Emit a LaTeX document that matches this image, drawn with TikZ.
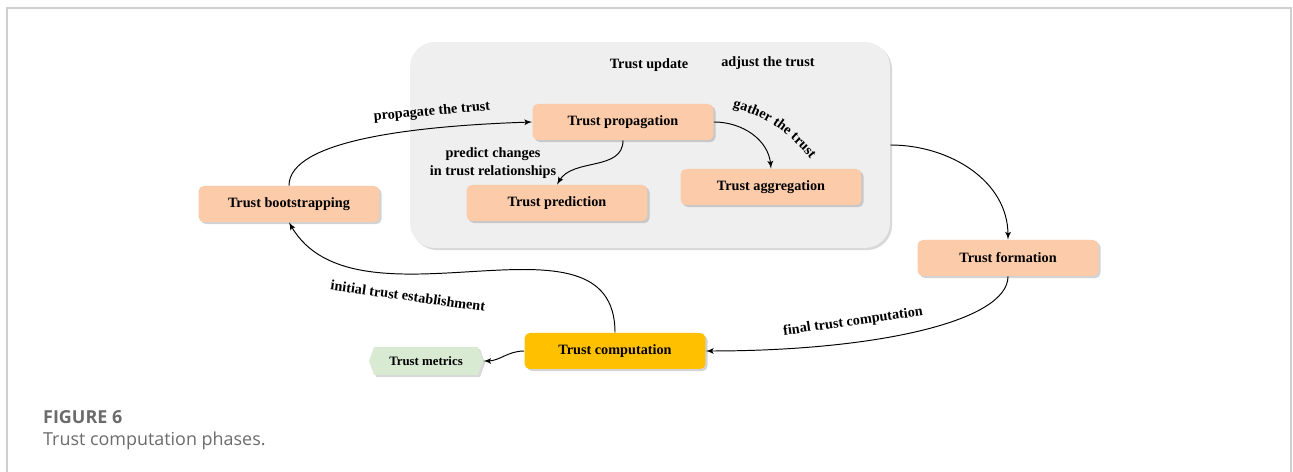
\documentclass[tikz,border=0pt]{standalone}
\usepackage{fontspec}
\setmainfont{Liberation Serif}
\newfontfamily\capfont{Open Sans}
\usepackage{tikz}
\usetikzlibrary{shapes,arrows,shadows,decorations.text}
\definecolor{peach}{HTML}{FBCBAA}
\definecolor{amber}{HTML}{FFC000}
\definecolor{mint}{HTML}{D9EAD3}
\definecolor{panel}{HTML}{EFEFEF}
\definecolor{framegray}{HTML}{CFCFCF}
\definecolor{capgray}{HTML}{6B6B6B}
\tikzstyle{trustblock} = [rectangle, fill=peach, text centered, rounded corners=3pt,
    minimum width=3.62cm, minimum height=0.72cm, font=\fontsize{8.1}{9.5}\selectfont\bfseries,
    drop shadow={opacity=0.35, shadow xshift=1.2pt, shadow yshift=-1.2pt}]
\tikzstyle{edgelabel} = [font=\fontsize{8.1}{9.8}\selectfont\bfseries, align=center]
\tikzstyle{line} = [draw, line width=0.55pt, -latex']

\begin{document}
\begin{tikzpicture}[x=0.02cm, y=0.02cm]
    \useasboundingbox (0,0) rectangle (1293,472);
    % frame
    \draw[framegray, line width=1pt] (7,0) -- (7,464) -- (1291,464) -- (1291,0);
    % update group
    \node [rectangle, fill=panel, rounded corners=0.5cm, minimum width=9.6cm, minimum height=4.12cm,
        drop shadow={opacity=0.3, shadow xshift=1.2pt, shadow yshift=-1.2pt}] (update) at (650,327) {};
    \node [edgelabel] (updatetitle) at (649,407) {Trust update};
    \node [edgelabel] (adjust) at (768,409) {adjust the trust};
    % blocks
    \node [trustblock] (prop) at (623,350) {Trust propagation};
    \node [trustblock] (pred) at (557,269) {Trust prediction};
    \node [trustblock] (aggr) at (771,285) {Trust aggregation};
    \node [trustblock] (boot) at (289,268) {Trust bootstrapping};
    \node [trustblock] (form) at (1008,214) {Trust formation};
    \node [trustblock, fill=amber] (comp) at (615,121) {Trust computation};
    \node [signal, signal to=west and east, signal pointer angle=140, fill=mint,
        minimum width=2.28cm, minimum height=0.56cm, font=\fontsize{7.3}{8}\selectfont\bfseries,
        drop shadow={opacity=0.3, shadow xshift=1.2pt, shadow yshift=-1.2pt}] (metrics) at (426,111) {Trust metrics};
    % Draw edges
    \path[line] (boot.north) .. controls +(0,45) and +(-120,-4) .. (prop.west);
    \path[line] (prop.south) to[out=-90, in=60] (pred.north);
    \path[line] (prop.east) to[out=0, in=95] (aggr.north);
    \path[line] (update.east) to[out=0, in=90] (form.north);
    \path[line] (form.south) .. controls +(0,-45) and +(170,0) .. (comp.east);
    \path[line] (comp.north) to[out=90, in=-60] (boot.south);
    \path[line] (comp.west) to[out=180, in=0] (metrics.east);
    % edge labels
    \node [edgelabel, rotate=5] (proplabel) at (432,360) {propagate the trust};
    \node [edgelabel] (predlabel) at (493,309) {predict changes\\in trust relationships};
    \coordinate (gatherstart) at (724,366);
    \coordinate (gatherend) at (816,306);
    \path[decorate, decoration={text along path, text align=center,
        text={|\fontsize{8.1}{9.8}\selectfont\bfseries|gather the trust}}]
        (gatherstart) to[out=-12, in=128] (gatherend);
    \node [edgelabel, rotate=8] (finallabel) at (853,150) {final trust computation};
    \node [edgelabel, rotate=-8] (initlabel) at (408,176) {initial trust establishment};
    % caption
    \node [anchor=west, text=capgray, font=\capfont\fontsize{10.2}{12}\selectfont\bfseries] (capnum) at (37,55) {FIGURE 6};
    \node [anchor=west, text=capgray, font=\capfont\fontsize{10.2}{12}\selectfont] (captext) at (37,31) {Trust computation phases.};
\end{tikzpicture}
\end{document}
